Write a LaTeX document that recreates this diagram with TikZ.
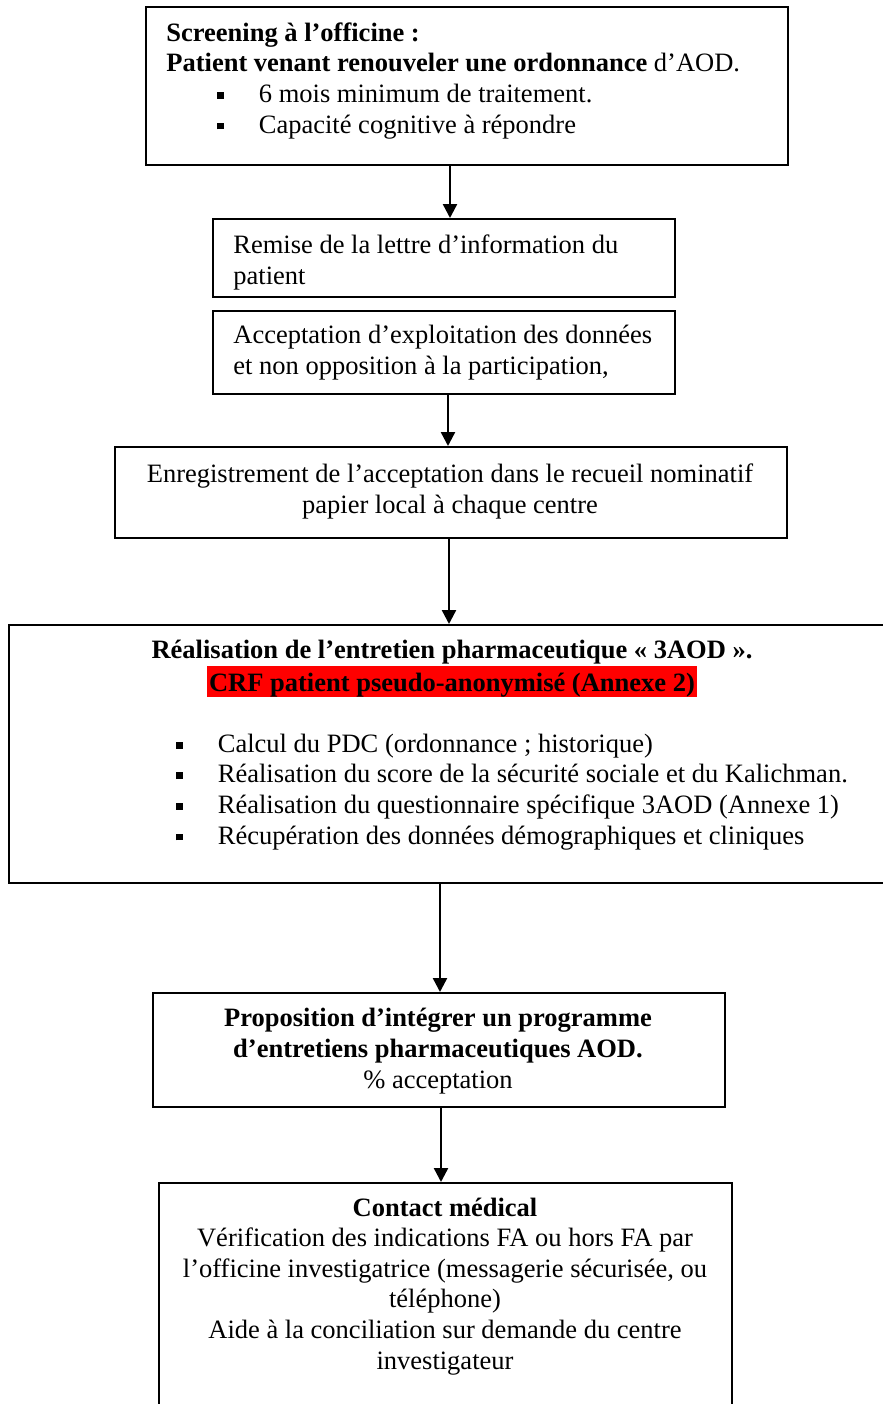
\documentclass[tikz,border=0pt]{standalone}
\usepackage{fontspec}
\setmainfont{Liberation Serif}
\usetikzlibrary{arrows.meta}
\newcommand{\sqb}{\rule[1.8pt]{3.4pt}{3.4pt}}
\newcommand{\bul}{\makebox[20.75pt][l]{\sqb}}
\setlength{\fboxsep}{0pt}

\begin{document}
\begin{tikzpicture}[x=0.5pt,y=-0.5pt,
    every node/.style={font=\fontsize{13.25}{15.3}\selectfont, inner sep=0pt},
    box/.style={draw, line width=0.9pt, anchor=north west},
    txt/.style={anchor=base west, align=left},
    ctxt/.style={anchor=base, align=center},
    arr/.style={line width=1.2pt, -{Triangle[width=7pt,length=7pt]}}]
  \useasboundingbox (0,0) rectangle (883,1404);
  % boxes
  \node (scr) at (145,6) [box, minimum width=321pt, minimum height=79pt] {};
  \node (rem) at (212,218) [box, minimum width=231pt, minimum height=39pt] {};
  \node (acc) at (212,310) [box, minimum width=231pt, minimum height=41.5pt] {};
  \node (enr) at (114,446) [box, minimum width=336pt, minimum height=45.5pt] {};
  \node (ent) at (8,624) [box, minimum width=445pt, minimum height=129pt] {};
  \node (prop) at (152,992) [box, minimum width=286pt, minimum height=57pt] {};
  \node (cont) at (158,1182) [box, minimum width=286.5pt, minimum height=125pt] {};
  % texts (placed by the baseline of their last line)
  \node (scrT) at (166,133) [txt] {\textbf{Screening à l’officine :}\\
    \textbf{Patient venant renouveler une ordonnance} d’AOD.\\
    \hspace*{25.5pt}\bul 6 mois minimum de traitement.\\
    \hspace*{25.5pt}\bul Capacité cognitive à répondre};
  \node (remT) at (233,284) [txt] {Remise de la lettre d’information du\\patient};
  \node (accT) at (233,374) [txt] {Acceptation d’exploitation des données\\et non opposition à la participation,};
  \node (enrT) at (450,513) [ctxt] {Enregistrement de l’acceptation dans le recueil nominatif\\papier local à chaque centre};
  \node (entT) at (452,691) [ctxt] {\textbf{Réalisation de l’entretien pharmaceutique « 3AOD ».}\\
    \colorbox{red}{\rule[-3pt]{0pt}{15.5pt}\hspace{1pt}\textbf{CRF patient pseudo-anonymisé (Annexe 2)}\hspace{1pt}}};
  \node (entL) at (176,844) [txt] {\bul Calcul du PDC (ordonnance ; historique)\\
    \bul Réalisation du score de la sécurité sociale et du Kalichman.\\
    \bul Réalisation du questionnaire spécifique 3AOD (Annexe 1)\\
    \bul Récupération des données démographiques et cliniques};
  \node (propT) at (438,1088) [ctxt] {\textbf{Proposition d’intégrer un programme}\\
    \textbf{d’entretiens pharmaceutiques AOD.}\\\% acceptation};
  \node (contT) at (445,1369) [ctxt] {\textbf{Contact médical}\\
    Vérification des indications FA ou hors FA par\\
    l’officine investigatrice (messagerie sécurisée, ou\\
    téléphone)\\
    Aide à la conciliation sur demande du centre\\
    investigateur};
  % arrows
  \coordinate (k1) at (450,0);
  \coordinate (k2) at (448,0);
  \coordinate (k3) at (449,0);
  \coordinate (k4) at (440,0);
  \coordinate (k5) at (441,0);
  \draw[arr] (scr.south -| k1) -- (rem.north -| k1);
  \draw[arr] (acc.south -| k2) -- (enr.north -| k2);
  \draw[arr] (enr.south -| k3) -- (ent.north -| k3);
  \draw[arr] (ent.south -| k4) -- (prop.north -| k4);
  \draw[arr] (prop.south -| k5) -- (cont.north -| k5);
\end{tikzpicture}
\end{document}
